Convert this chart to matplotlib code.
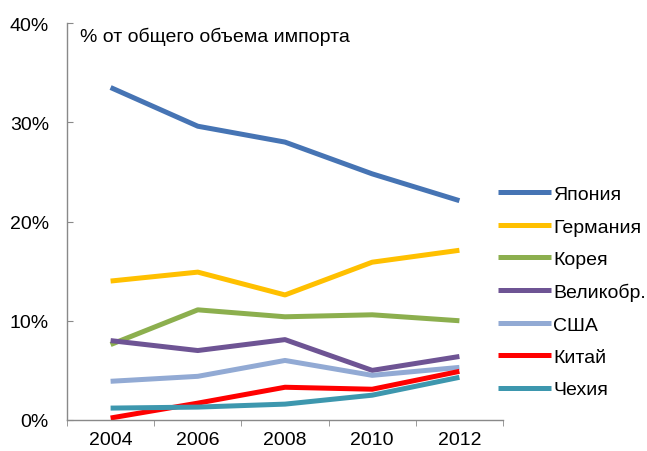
import matplotlib.pyplot as plt
import matplotlib.ticker as ticker

plt.rcParams['font.family'] = ['Liberation Sans', 'DejaVu Sans']

years = ['2004', '2006', '2008', '2010', '2012']

japan = [33.5, 29.6, 28.0, 24.8, 22.1]
germany = [14.0, 14.9, 12.6, 15.9, 17.1]
korea = [7.6, 11.1, 10.4, 10.6, 10.0]
uk = [8.0, 7.0, 8.1, 5.0, 6.4]
usa = [3.9, 4.4, 6.0, 4.5, 5.3]
china = [0.2, 1.7, 3.3, 3.1, 4.9]
czech = [1.2, 1.3, 1.6, 2.5, 4.3]

series = [
    ('Япония', japan, '#4674B4'),
    ('Германия', germany, '#FFC000'),
    ('Корея', korea, '#8CAF4E'),
    ('Великобр.', uk, '#6E5494'),
    ('США', usa, '#92AAD4'),
    ('Китай', china, '#FF0000'),
    ('Чехия', czech, '#3D97AE'),
]

fig = plt.figure(figsize=(6.47, 4.52), dpi=100)
ax = fig.add_axes([67 / 647, 31 / 452, 436 / 647, 397 / 452])

x = list(range(len(years)))
for name, vals, col in series:
    ax.plot(x, vals, color=col, linewidth=3.6, label=name, solid_capstyle='butt')

ax.set_xlim(-0.5, 4.5)
ax.set_ylim(0, 40)
ax.set_xticks(x)
ax.set_xticklabels(years)
ax.xaxis.set_minor_locator(ticker.FixedLocator([i - 0.5 for i in range(6)]))
ax.tick_params(axis='x', which='major', length=0, labelsize=14, pad=8)
ax.tick_params(axis='x', which='minor', length=4, direction='out', color='#898989')
ax.yaxis.set_major_locator(ticker.MultipleLocator(10))
ax.yaxis.set_major_formatter(ticker.FuncFormatter(lambda v, p: f'{v:.0f}%'))
ax.tick_params(axis='y', length=4, direction='in', color='#898989', labelsize=14, pad=13)

for s in ['top', 'right']:
    ax.spines[s].set_visible(False)
for s in ['left', 'bottom']:
    ax.spines[s].set_color('#898989')
    ax.spines[s].set_linewidth(1.0)

ax.text(80 / 647, 1 - 37 / 452, '% от общего объема импорта', transform=fig.transFigure,
        fontsize=14, va='center', ha='left')

fig.legend(loc='center left', bbox_to_anchor=(498 / 647, 1 - 293 / 452), frameon=False,
           fontsize=14, handlelength=2.7, handletextpad=0.15, labelspacing=0.76,
           borderpad=0, borderaxespad=0)

fig.savefig('out.png', dpi=100)
